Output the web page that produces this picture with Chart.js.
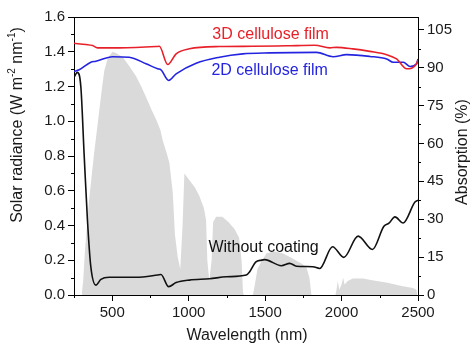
<!DOCTYPE html>
<html>
<head>
<meta charset="utf-8">
<script src="https://cdn.jsdelivr.net/npm/chart.js@4.4.0/dist/chart.umd.min.js"></script>
<style>
  html, body { margin: 0; padding: 0; background: #fff; }
  #chart { display: block; }
</style>
</head>
<body>
<canvas id="chart" width="471" height="345"></canvas>
<script>
// tick values
const wavelengthTicks = [500, 1000, 1500, 2000, 2500];
const radianceTicks = [0, 0.2, 0.4, 0.6, 0.8, 1.0, 1.2, 1.4, 1.6];
const absorptionTicks = [0, 15, 30, 45, 60, 75, 90, 105];

// AM1.5 solar spectrum (left axis, W m-2 nm-1)
const solarNm = [300, 310, 322, 349, 365, 382, 400, 415, 430, 448, 470, 485, 502, 530, 568, 610, 655, 690, 721, 760,
  787, 815, 830, 855, 874, 896, 910, 928, 945, 960, 972, 1005, 1040, 1070, 1100, 1114, 1122, 1135, 1150, 1160,
  1180, 1220, 1260, 1300, 1330, 1346, 1355, 1360, 1420, 1431, 1450, 1480, 1510, 1560, 1614, 1680, 1740, 1770,
  1790, 1803, 1960, 1967, 1975, 1985, 2000, 2010, 2020, 2040, 2074, 2140, 2200, 2300, 2400, 2467, 2490, 2495];
const solarValues = [0, 0.08, 0.26, 0.55, 0.68, 0.82, 0.95, 1.06, 1.17, 1.29, 1.36, 1.38, 1.4, 1.39, 1.37, 1.32, 1.26, 1.2, 1.14, 1.06,
  1.01, 0.95, 0.89, 0.82, 0.76, 0.59, 0.35, 0.22, 0.15, 0.4, 0.7, 0.66, 0.62, 0.57, 0.5, 0.43, 0.2, 0.08, 0.2, 0.42,
  0.45, 0.45, 0.42, 0.38, 0.33, 0.2, 0.02, 0, 0, 0.05, 0.15, 0.2, 0.24, 0.25, 0.24, 0.21, 0.18, 0.16,
  0.1, 0, 0, 0.03, 0.08, 0.03, 0.06, 0.1, 0.06, 0.08, 0.095, 0.095, 0.085, 0.07, 0.05, 0.04, 0.03, 0];

// absorption (right axis, %)
const film3dNm = [250, 328, 371, 404, 546, 787, 808, 863, 918, 1005, 1202, 1418, 1639, 1825, 1923, 1967, 2074, 2185, 2295, 2360, 2426, 2491, 2500];
const film3dAbs = [99.6, 99.1, 98.7, 97.8, 97.8, 98.3, 98.4, 91.2, 95.4, 97.4, 98.3, 98.4, 98.6, 98.8, 97.8, 98.0, 97.4, 96.4, 95.1, 93.4, 89.5, 91.5, 93.2];

const film2dNm = [250, 284, 360, 393, 502, 611, 721, 797, 819, 869, 918, 1049, 1202, 1354, 1530, 1836, 1945, 2033, 2185, 2295, 2338, 2404, 2448, 2491, 2500];
const film2dAbs = [88.4, 89.1, 92.1, 92.5, 94.3, 94.1, 91.5, 89.5, 89.1, 84.9, 87.5, 91.7, 94.1, 95.4, 95.8, 96.0, 94.3, 95.1, 94.4, 93.4, 92.1, 92.1, 90.4, 91.5, 93.4];

const bareNm = [251, 272, 295, 316, 338, 360, 393, 426, 480, 655, 797, 819, 869, 918, 1005, 1136, 1246, 1377, 1398, 1438, 1477, 1497,
  1606, 1661, 1705, 1813, 1857, 1941, 2015, 2108, 2202, 2277, 2310, 2349, 2403, 2480, 2500];
const bareAbs = [86.2, 88.1, 82.2, 56.0, 29.6, 11.2, 3.9, 6.2, 7.0, 7.0, 7.9, 8.1, 3.3, 4.9, 5.9, 6.4, 7.2, 7.9, 9.1, 13.0, 13.8, 14.0,
  11.6, 12.5, 11.4, 11.2, 10.5, 19.1, 14.9, 23.3, 18.0, 27.2, 28.4, 30.9, 28.5, 36.8, 37.5];

const FONT = 'Liberation Sans, Arial, Helvetica, sans-serif';
const pts = (xs, ys) => xs.map((x, i) => ({ x, y: ys[i] }));

const tickOpts = { font: { family: FONT, size: 15 }, color: '#1a1a1a', padding: 3, maxRotation: 0, autoSkip: false };
const gridOpts = { drawOnChartArea: false, drawTicks: true, tickLength: 6, tickColor: '#000', tickWidth: 1 };
const borderOpts = { display: true, color: '#000', width: 1 };

const extras = {
  id: 'extras',
  afterDraw(chart) {
    const { ctx, chartArea: a, scales } = chart;
    const { x, y, y1 } = scales;
    ctx.save();
    ctx.strokeStyle = '#000';
    ctx.lineWidth = 1;
    ctx.beginPath();
    ctx.moveTo(a.left, Math.round(a.top) + 0.5);
    ctx.lineTo(a.right, Math.round(a.top) + 0.5);
    // minor ticks
    wavelengthTicks.forEach((v) => {
      const p = Math.round(x.getPixelForValue(v - 250)) + 0.5;
      ctx.moveTo(p, a.bottom); ctx.lineTo(p, a.bottom + 3);
    });
    radianceTicks.slice(1).forEach((v) => {
      const p = Math.round(y.getPixelForValue(v - 0.1)) + 0.5;
      ctx.moveTo(a.left, p); ctx.lineTo(a.left - 3, p);
    });
    absorptionTicks.slice(1).forEach((v) => {
      const p = Math.round(y1.getPixelForValue(v - 7.5)) + 0.5;
      ctx.moveTo(a.right, p); ctx.lineTo(a.right + 3, p);
    });
    ctx.stroke();

    // series labels
    ctx.font = `16px ${FONT}`;
    ctx.textAlign = 'center';
    ctx.textBaseline = 'middle';
    ctx.fillStyle = '#e8202a';
    ctx.fillText('3D cellulose film', x.getPixelForValue(1536), y1.getPixelForValue(103));
    ctx.fillStyle = '#2424e0';
    ctx.fillText('2D cellulose film', x.getPixelForValue(1530), y1.getPixelForValue(88.8));
    ctx.fillStyle = '#111';
    ctx.fillText('Without coating', x.getPixelForValue(1490), y1.getPixelForValue(18.9));

    // axis titles
    ctx.fillStyle = '#1a1a1a';
    ctx.fillText('Wavelength (nm)', (a.left + a.right) / 2 + 1, 336);

    const parts = [
      ['Solar radiance (W m', 16, 0],
      ['-2', 10, -6],
      [' nm', 16, 0],
      ['-1', 10, -6],
      [')', 16, 0],
    ];
    let total = 0;
    parts.forEach((p) => { ctx.font = `${p[1]}px ${FONT}`; total += ctx.measureText(p[0]).width; });
    ctx.save();
    ctx.translate(18, 125);
    ctx.rotate(-Math.PI / 2);
    ctx.textAlign = 'left';
    let cx = -total / 2;
    parts.forEach((p) => {
      ctx.font = `${p[1]}px ${FONT}`;
      ctx.fillText(p[0], cx, p[2]);
      cx += ctx.measureText(p[0]).width;
    });
    ctx.restore();

    ctx.save();
    ctx.translate(463, 152);
    ctx.rotate(-Math.PI / 2);
    ctx.font = `16px ${FONT}`;
    ctx.textAlign = 'center';
    ctx.fillText('Absorption (%)', 0, 0);
    ctx.restore();
    ctx.restore();
  },
};

new Chart(document.getElementById('chart'), {
  type: 'line',
  data: {
    datasets: [
      { label: '3D cellulose film', data: pts(film3dNm, film3dAbs), yAxisID: 'y1', borderColor: '#e8202a', borderWidth: 1.6, pointRadius: 0, cubicInterpolationMode: 'monotone', order: 1 },
      { label: '2D cellulose film', data: pts(film2dNm, film2dAbs), yAxisID: 'y1', borderColor: '#2424e0', borderWidth: 1.6, pointRadius: 0, cubicInterpolationMode: 'monotone', order: 1 },
      { label: 'Without coating', data: pts(bareNm, bareAbs), yAxisID: 'y1', borderColor: '#111', borderWidth: 1.6, pointRadius: 0, cubicInterpolationMode: 'monotone', order: 1 },
      { label: 'AM1.5', data: pts(solarNm, solarValues), yAxisID: 'y', borderColor: 'rgba(0,0,0,0)', borderWidth: 0, backgroundColor: '#dadada', fill: 'origin', pointRadius: 0, tension: 0, order: 10 },
    ],
  },
  options: {
    responsive: false,
    animation: false,
    layout: { padding: { top: 17, left: 0, right: 0, bottom: 0 } },
    plugins: { legend: { display: false }, tooltip: { enabled: false } },
    scales: {
      x: {
        type: 'linear', min: 250, max: 2500,
        afterBuildTicks: (s) => { s.ticks = wavelengthTicks.map((v) => ({ value: v })); },
        afterFit: (s) => { s.height = 50; },
        ticks: { ...tickOpts, callback: (v) => String(v) }, grid: gridOpts, border: borderOpts,
      },
      y: {
        position: 'left', min: 0, max: 1.6,
        afterBuildTicks: (s) => { s.ticks = radianceTicks.map((v) => ({ value: v })); },
        afterFit: (s) => { s.width = 74; },
        ticks: { ...tickOpts, callback: (v) => Number(v).toFixed(1) }, grid: gridOpts, border: borderOpts,
      },
      y1: {
        position: 'right', min: 0, max: 110,
        afterBuildTicks: (s) => { s.ticks = absorptionTicks.map((v) => ({ value: v })); },
        afterFit: (s) => { s.width = 53; },
        ticks: { ...tickOpts, callback: (v) => String(v) }, grid: gridOpts, border: borderOpts,
      },
    },
  },
  plugins: [extras],
});
</script>
</body>
</html>
